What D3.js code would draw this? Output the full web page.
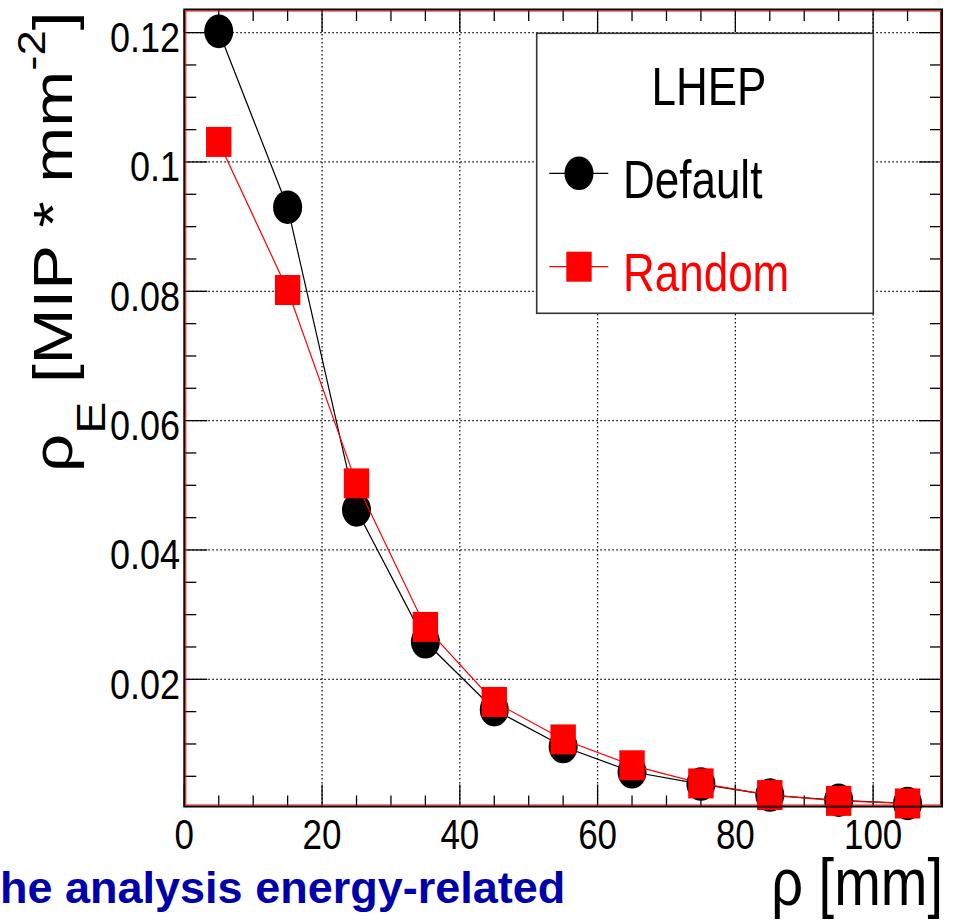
<!DOCTYPE html>
<html>
<head>
<meta charset="utf-8">
<script src="https://cdn.jsdelivr.net/npm/d3@7"></script>
<style>
  html, body { margin: 0; padding: 0; background: #fff; }
  svg { display: block; }
  text { font-family: "Liberation Sans", Arial, Helvetica, sans-serif; }
</style>
</head>
<body>
<svg id="chart" width="954" height="922"></svg>
<script>
// ---- data ----
const radii = [5, 15, 25, 35, 45, 55, 65, 75, 85, 95, 105];
const defaultVals = [0.1202, 0.0930, 0.0462, 0.0258, 0.0153, 0.0096, 0.0057, 0.0038, 0.0021, 0.0013, 0.0008];
const randomVals  = [0.1031, 0.0802, 0.0503, 0.0281, 0.0165, 0.0107, 0.0067, 0.0039, 0.0021, 0.0012, 0.0008];
const xTickVals = [0, 20, 40, 60, 80, 100];
const yTickVals = [0.02, 0.04, 0.06, 0.08, 0.1, 0.12];
const yTickLabels = ["0.02", "0.04", "0.06", "0.08", "0.1", "0.12"];
const legendTitle = "LHEP";
const seriesNames = ["Default", "Random"];

// ---- layout ----
const svg = d3.select("#chart");
const L = 184.3, R = 942, T = 10, B = 806.5;
const x = d3.scaleLinear().domain([0, 110]).range([L, R]);
const y = d3.scaleLinear().domain([0.00033, 0.1235]).range([B, T]);
const SY = 1.2; // vertical stretch of glyphs in the picture

// grid
const grid = svg.append("g").attr("stroke", "#000").attr("stroke-width", 1.2)
  .attr("stroke-dasharray", "1.5,2.5").attr("fill", "none");
grid.selectAll("line.gx").data(xTickVals.filter(v => v > 0)).join("line")
  .attr("x1", d => x(d)).attr("x2", d => x(d)).attr("y1", T).attr("y2", B);
grid.selectAll("line.gy").data(yTickVals).join("line")
  .attr("x1", L).attr("x2", R).attr("y1", d => y(d)).attr("y2", d => y(d));

// ticks (inward, all four sides)
const xMinor = d3.range(0, 110.01, 5);
const yMinor = d3.range(0.005, 0.1235, 0.005);
const ticks = svg.append("g").attr("stroke", "#000").attr("stroke-width", 1.3);
const isMajX = v => Math.abs(v % 20) < 1e-6;
const isMajY = v => yTickVals.some(t => Math.abs(t - v) < 1e-6);
xMinor.forEach(v => {
  const len = isMajX(v) ? 22 : 11;
  ticks.append("line").attr("x1", x(v)).attr("x2", x(v)).attr("y1", B).attr("y2", B - len);
  ticks.append("line").attr("x1", x(v)).attr("x2", x(v)).attr("y1", T).attr("y2", T + len);
});
yMinor.forEach(v => {
  const len = isMajY(v) ? 23 : 12;
  ticks.append("line").attr("x1", L).attr("x2", L + len).attr("y1", y(v)).attr("y2", y(v));
  ticks.append("line").attr("x1", R).attr("x2", R - len).attr("y1", y(v)).attr("y2", y(v));
});

// series
const line = d3.line().x((d, i) => x(radii[i])).y(d => y(d));
svg.append("path").datum(defaultVals).attr("d", line)
  .attr("fill", "none").attr("stroke", "#000").attr("stroke-width", 1.2);
svg.append("g").selectAll("ellipse").data(defaultVals).join("ellipse")
  .attr("cx", (d, i) => x(radii[i])).attr("cy", d => y(d))
  .attr("rx", 14.5).attr("ry", 16.8).attr("fill", "#000");
svg.append("path").datum(randomVals).attr("d", line)
  .attr("fill", "none").attr("stroke", "#f00").attr("stroke-width", 1.2);
svg.append("g").selectAll("rect").data(randomVals).join("rect")
  .attr("x", (d, i) => x(radii[i]) - 12.7).attr("y", d => y(d) - 15)
  .attr("width", 25.4).attr("height", 30).attr("fill", "#f00");

// frame: black axis lines with red inner frame
svg.append("rect").attr("x", L).attr("y", T - 0.5).attr("width", R - L).attr("height", B - T + 0.5)
  .attr("fill", "none").attr("stroke", "#000").attr("stroke-width", 2);
svg.append("rect").attr("x", L + 1.5).attr("y", T + 1).attr("width", R - L - 3).attr("height", B - T - 2.5)
  .attr("fill", "none").attr("stroke", "#e00").attr("stroke-width", 1);

// tick labels
svg.append("g").selectAll("text").data(yTickVals).join("text")
  .attr("transform", d => `translate(180,${y(d) + 19.5}) scale(1,1.17)`)
  .attr("text-anchor", "end").attr("font-size", 36).attr("fill", "#000")
  .text((d, i) => yTickLabels[i]);
svg.append("g").selectAll("text").data(xTickVals).join("text")
  .attr("transform", d => `translate(${x(d)},849) scale(1,${SY})`)
  .attr("text-anchor", "middle").attr("font-size", 35).attr("fill", "#000")
  .text(d => d);

// axis titles
svg.append("text").attr("transform", `translate(943,905) scale(1,${SY})`)
  .attr("text-anchor", "end").attr("font-size", 56).attr("fill", "#000")
  .text("ρ [mm]");
const yt = svg.append("text").attr("transform", `translate(72,472) rotate(-90) scale(${SY},1)`)
  .attr("font-size", 56).attr("fill", "#000");
yt.append("tspan").text("ρ");
yt.append("tspan").attr("dy", 33).attr("font-size", 40).text("E");
yt.append("tspan").attr("dy", -33).text(" [MIP * mm");
yt.append("tspan").attr("dy", -27).attr("font-size", 38).text("-2");
yt.append("tspan").attr("dy", 27).text("]");

// legend
const lg = svg.append("g");
lg.append("rect").attr("x", 536.7).attr("y", 33.3).attr("width", 336.6).attr("height", 280)
  .attr("fill", "#fff").attr("stroke", "#333").attr("stroke-width", 1.6);
lg.append("text").attr("transform", `translate(709,105) scale(1,${SY})`)
  .attr("text-anchor", "middle").attr("font-size", 44).attr("fill", "#000").text(legendTitle);
const legY = [173.3, 266.7];
const legCol = ["#000", "#f00"];
seriesNames.forEach((name, i) => {
  lg.append("line").attr("x1", 549.3).attr("x2", 608.3).attr("y1", legY[i]).attr("y2", legY[i])
    .attr("stroke", legCol[i]).attr("stroke-width", 1.2);
  if (i === 0) {
    lg.append("ellipse").attr("cx", 579).attr("cy", legY[i]).attr("rx", 14.5).attr("ry", 16.8).attr("fill", legCol[i]);
  } else {
    lg.append("rect").attr("x", 579 - 12.7).attr("y", legY[i] - 15).attr("width", 25.4).attr("height", 30).attr("fill", legCol[i]);
  }
  lg.append("text").attr("transform", `translate(623,${legY[i] + 24.5}) scale(1,${SY})`)
    .attr("font-size", 44).attr("fill", legCol[i]).text(name);
});

// clipped blue caption at the bottom-left
svg.append("text").attr("x", 0).attr("y", 903).attr("font-size", 45).attr("font-weight", "bold")
  .attr("fill", "#0000aa").text("he analysis energy-related");
</script>
</body>
</html>
